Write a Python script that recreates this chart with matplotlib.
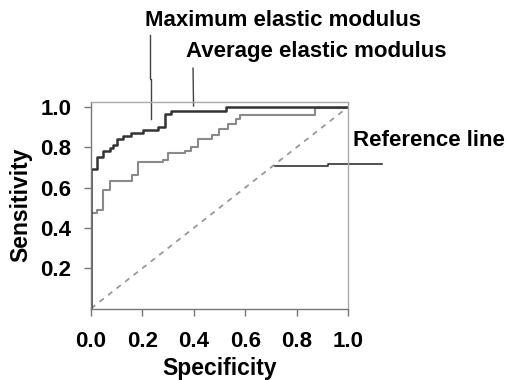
import matplotlib
matplotlib.use("Agg")
import matplotlib.pyplot as plt

plt.rcParams['font.family'] = ['Liberation Sans', 'DejaVu Sans']

# Data (specificity axis x, sensitivity y) -- step corners
max_x = [0, 0, 0.022, 0.048, 0.074, 0.087, 0.10, 0.126, 0.155, 0.203, 0.26, 0.288, 0.313, 0.525, 1.0]
max_y = [0, 0.69, 0.75, 0.78, 0.795, 0.81, 0.84, 0.857, 0.873, 0.885, 0.90, 0.965, 0.98, 1.0, 1.0]

avg_x = [0, 0, 0.022, 0.048, 0.074, 0.158, 0.184, 0.28, 0.30, 0.365, 0.39, 0.418, 0.47, 0.50,
         0.535, 0.565, 0.58, 0.872, 1.0]
avg_y = [0, 0.476, 0.49, 0.59, 0.634, 0.662, 0.725, 0.735, 0.77, 0.783, 0.80, 0.84, 0.863, 0.889,
         0.915, 0.94, 0.96, 0.995, 0.995]

ref_x = [0, 1]
ref_y = [0, 1]

xticks = [0.0, 0.2, 0.4, 0.6, 0.8, 1.0]
yticks = [0.2, 0.4, 0.6, 0.8, 1.0]

labels = ["Maximum elastic modulus", "Average elastic modulus", "Reference line"]

fig = plt.figure(figsize=(5.1, 3.8), dpi=100)
ax = fig.add_axes([91/510, (380-308.5)/380, (348-91)/510, (308.5-102)/380])

ax.plot(ref_x, ref_y, color='#999999', lw=1.3, ls=(0, (3, 3)))
ax.plot(avg_x, avg_y, color='#8a8a8a', lw=1.5, drawstyle='steps-post')
ax.plot(max_x, max_y, color='#333333', lw=1.8, drawstyle='steps-post')

ax.set_xlim(0, 1)
ax.set_ylim(0, 1.025)
ax.set_xticks(xticks)
ax.set_xticklabels([f"{v:.1f}" for v in xticks])
ax.set_yticks(yticks)
ax.set_yticklabels([f"{v:.1f}" for v in yticks])
ax.tick_params(axis='both', labelsize=16, length=5, color='#777777', width=1)
ax.tick_params(axis='x', pad=11)
ax.tick_params(axis='y', pad=9)
for lab in ax.get_xticklabels() + ax.get_yticklabels():
    lab.set_fontweight('bold')
for s in ['left', 'bottom']:
    ax.spines[s].set_color('#777777')
for s in ['top', 'right']:
    ax.spines[s].set_color('#aaaaaa')
for s in ax.spines.values():
    s.set_linewidth(1.0)

ax.set_xlabel("Specificity", fontsize=16.5, fontweight='bold', labelpad=4)
ax.set_ylabel("Sensitivity", fontsize=16.5, fontweight='bold', labelpad=6)

# leader lines
ax.plot([0.229, 0.229, 0.233, 0.233], [1.356, 1.14, 1.14, 0.94], color='#444444', lw=1.0, clip_on=False)
ax.plot([0.397, 0.399], [1.193, 1.005], color='#444444', lw=1.0, clip_on=False)
ax.plot([0.716, 0.922, 0.922, 1.132], [0.705, 0.705, 0.718, 0.718], color='#333333', lw=1.2, clip_on=False)

fig.text(145/510, (380-20.7)/380, labels[0], fontsize=16, fontweight='bold', va='center', ha='left')
fig.text(186/510, (380-51.7)/380, labels[1], fontsize=16, fontweight='bold', va='center', ha='left')
fig.text(353/510, (380-140)/380, labels[2], fontsize=16, fontweight='bold', va='center', ha='left')

fig.savefig("out.png", dpi=100)
